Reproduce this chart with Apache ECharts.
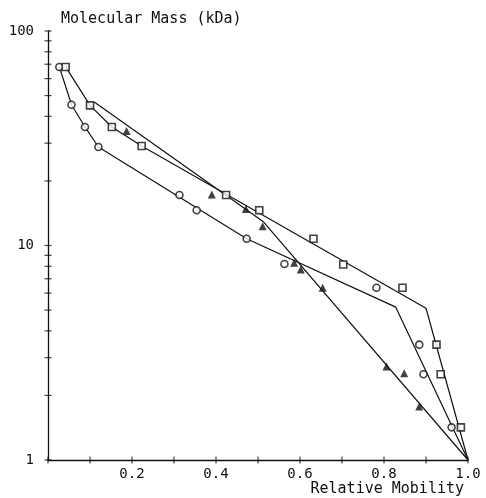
<!DOCTYPE html>
<html>
<head>
<meta charset="utf-8">
<script src="https://cdn.jsdelivr.net/npm/echarts@6/dist/echarts.min.js"></script>
<style>
html,body{margin:0;padding:0;background:#fff;}
#chart{width:486px;height:498px;}
</style>
</head>
<body>
<div id="chart"></div>
<script>
// Circle standards
var circleMobility = [0.027, 0.056, 0.088, 0.120, 0.313, 0.354, 0.473, 0.563, 0.782, 0.884, 0.894, 0.961];
var circleMass     = [68, 45.3, 35.7, 28.8, 17.2, 14.6, 10.75, 8.2, 6.35, 3.45, 2.51, 1.42];
// Square standards
var squareMobility = [0.042, 0.100, 0.152, 0.223, 0.424, 0.503, 0.632, 0.703, 0.844, 0.925, 0.935, 0.983];
var squareMass     = [68, 45, 35.7, 29.1, 17.2, 14.6, 10.75, 8.15, 6.35, 3.45, 2.51, 1.42];
// Triangles
var triMobility = [0.187, 0.390, 0.471, 0.511, 0.586, 0.602, 0.654, 0.806, 0.848, 0.884];
var triMass     = [34.2, 17.3, 14.8, 12.3, 8.3, 7.72, 6.35, 2.73, 2.54, 1.775];
// Fitted (piecewise) curves
var circleFitX = [0.027, 0.056, 0.088, 0.120, 0.473, 0.828, 1.0];
var circleFitY = [68, 45.3, 35.7, 28.8, 10.75, 5.16, 1];
var squareFitX = [0.042, 0.100, 0.152, 0.223, 0.900, 1.0];
var squareFitY = [68, 45, 35.7, 29.1, 5.1, 1];
var triFitX = [0.110, 0.512, 1.0];
var triFitY = [46.7, 12.95, 1];
// Axis ticks
var xTickValues = [0, 0.1, 0.2, 0.3, 0.4, 0.5, 0.6, 0.7, 0.8, 0.9, 1.0];
var yTickValues = [1, 2, 3, 4, 5, 6, 7, 8, 9, 10, 20, 30, 40, 50, 60, 70, 80, 90, 100];

function zip(xs, ys) { return xs.map(function (x, i) { return [x, ys[i]]; }); }

var FONT = 'DejaVu Sans Mono';
var INK = '#111';

var chart = echarts.init(document.getElementById('chart'), null, {renderer: 'canvas'});
var option = {
  animation: false,
  backgroundColor: '#fff',
  grid: {left: 48, right: 18, top: 31, bottom: 38, containLabel: false},
  xAxis: {
    type: 'value', min: 0, max: 1, interval: 0.2,
    axisLine: {show: true, lineStyle: {color: INK, width: 1.3}},
    axisTick: {show: false},
    splitLine: {show: false},
    axisLabel: {
      color: INK, fontFamily: FONT, fontSize: 14, margin: 7,
      formatter: function (v) { return v === 0 ? '' : v.toFixed(1); }
    }
  },
  yAxis: {
    type: 'log', logBase: 10, min: 1, max: 100,
    axisLine: {show: true, lineStyle: {color: INK, width: 1.3}},
    axisTick: {show: false},
    splitLine: {show: false},
    axisLabel: {color: INK, fontFamily: FONT, fontSize: 14, margin: 14}
  },
  graphic: [
    {type: 'text', left: 61, top: 12, style: {text: 'Molecular Mass (kDa)', fill: INK, font: '15px "DejaVu Sans Mono"'}},
    {type: 'text', right: 22, top: 482, style: {text: 'Relative Mobility', fill: INK, font: '15px "DejaVu Sans Mono"'}}
  ],
  series: [
    {type: 'line', data: zip(circleFitX, circleFitY), showSymbol: false, symbol: 'none',
     lineStyle: {color: INK, width: 1.2}, z: 2},
    {type: 'line', data: zip(squareFitX, squareFitY), showSymbol: false, symbol: 'none',
     lineStyle: {color: INK, width: 1.2}, z: 2},
    {type: 'line', data: zip(triFitX, triFitY), showSymbol: false, symbol: 'none',
     lineStyle: {color: INK, width: 1.2}, z: 2},
    {type: 'scatter', data: zip(circleMobility, circleMass), symbol: 'circle', symbolSize: 7,
     itemStyle: {color: '#fff', borderColor: INK, borderWidth: 1.6}, z: 3},
    {type: 'scatter', data: zip(squareMobility, squareMass), symbol: 'rect', symbolSize: 7,
     itemStyle: {color: '#fff', borderColor: INK, borderWidth: 1.6}, z: 3},
    {type: 'scatter', data: zip(triMobility, triMass), symbol: 'triangle', symbolSize: 8,
     itemStyle: {color: INK}, z: 3},
    {type: 'scatter', data: yTickValues.map(function (v) { return [0, v]; }), symbol: 'rect',
     symbolSize: [7, 1.2], clip: false, silent: true, itemStyle: {color: INK}, z: 4},
    {type: 'scatter', data: xTickValues.map(function (v) { return [v, 1]; }), symbol: 'rect',
     symbolSize: [1.2, 7], clip: false, silent: true, itemStyle: {color: INK}, z: 4}
  ]
};
chart.setOption(option);
</script>
</body>
</html>
